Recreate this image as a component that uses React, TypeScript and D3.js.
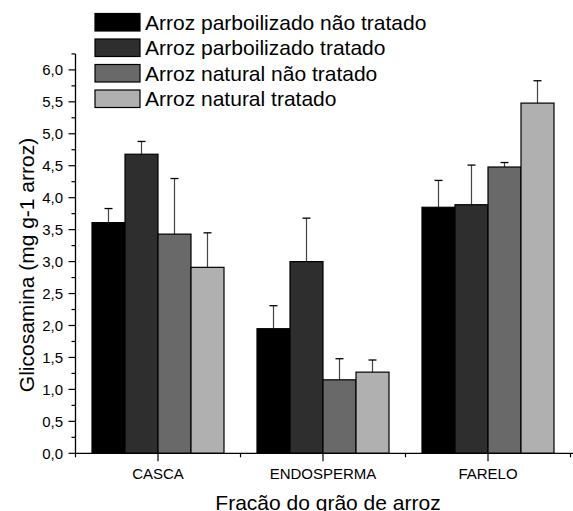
import React from 'react';
import { scaleLinear, range } from 'd3';

const categories = ['CASCA', 'ENDOSPERMA', 'FARELO'];
const seriesNames = [
  'Arroz parboilizado não tratado',
  'Arroz parboilizado tratado',
  'Arroz natural não tratado',
  'Arroz natural tratado',
];
const colors = ['#000000', '#2e2e2e', '#696969', '#b0b0b0'];
// values per series, in order of categories
const values = [
  [3.61, 1.95, 3.85],
  [4.68, 3.0, 3.89],
  [3.43, 1.15, 4.48],
  [2.91, 1.27, 5.48],
];
const errors = [
  [0.22, 0.36, 0.42],
  [0.2, 0.68, 0.62],
  [0.87, 0.33, 0.07],
  [0.54, 0.19, 0.35],
];
const yTicks = [0, 0.5, 1, 1.5, 2, 2.5, 3, 3.5, 4, 4.5, 5, 5.5, 6];

const W = 573;
const H = 511;

const App = () => {
  const x = scaleLinear().domain([-0.5, 2.5]).range([75.5, 570.5]);
  const y = scaleLinear().domain([0, 6.25]).range([453.3, 53.9]);
  const step = x(1) - x(0);
  const barW = (step * 0.8) / seriesNames.length;
  const font = "'Liberation Sans', Arial, sans-serif";
  const minorY = range(0, 6.26, 0.25).filter(v => Math.abs(v * 2 - Math.round(v * 2)) > 1e-6);
  const x0 = x(-0.5);

  return (
    <svg width={W} height={H} style={{ position: 'absolute', left: 0, top: 0, fontFamily: font }}>
      <rect width={W} height={H} fill="#fff" />

      {/* bars */}
      {values.map((vals, s) =>
        vals.map((v, c) => {
          const bx = x(c) - (step * 0.8) / 2 + s * barW;
          const top = y(v + errors[s][c]);
          return (
            <g key={`${s}-${c}`}>
              <line x1={bx + barW / 2} x2={bx + barW / 2} y1={y(v)} y2={top} stroke="#444" strokeWidth={1.2} />
              <line x1={bx + barW / 2 - 4} x2={bx + barW / 2 + 4} y1={top} y2={top} stroke="#000" strokeWidth={1.3} />
              <rect x={bx} y={y(v)} width={barW} height={y(0) - y(v)} fill={colors[s]} stroke="#000" strokeWidth={1.2} />
            </g>
          );
        })
      )}

      {/* y axis */}
      <line x1={x0} x2={x0} y1={y(0)} y2={y(6.25)} stroke="#000" strokeWidth={1.3} />
      {yTicks.map(t => (
        <g key={t}>
          <line x1={x0 - 7} x2={x0} y1={y(t)} y2={y(t)} stroke="#000" strokeWidth={1.2} />
          <text x={x0 - 12.5} y={y(t)} dy="0.35em" textAnchor="end" fontSize={15}>
            {t.toFixed(1).replace('.', ',')}
          </text>
        </g>
      ))}
      {minorY.map(t => (
        <line key={t} x1={x0 - 4} x2={x0} y1={y(t)} y2={y(t)} stroke="#000" strokeWidth={1.2} />
      ))}

      {/* x axis */}
      <line x1={x0} x2={W} y1={y(0)} y2={y(0)} stroke="#000" strokeWidth={1.3} />
      {categories.map((c, i) => (
        <g key={c}>
          <line x1={x(i)} x2={x(i)} y1={y(0)} y2={y(0) + 8} stroke="#000" strokeWidth={1.2} />
          <text x={x(i)} y={479} textAnchor="middle" fontSize={15}>{c}</text>
        </g>
      ))}
      {[-0.5, 0.5, 1.5, 2.5].map(t => (
        <line key={t} x1={x(t)} x2={x(t)} y1={y(0)} y2={y(0) + 4} stroke="#000" strokeWidth={1.2} />
      ))}

      {/* axis titles */}
      <text x={328} y={510} textAnchor="middle" fontSize={21}>Fracão do grão de arroz</text>
      <text transform="translate(34,265) rotate(-90)" textAnchor="middle" fontSize={21}>
        Glicosamina (mg g-1 arroz)
      </text>

      {/* legend */}
      {seriesNames.map((n, i) => (
        <g key={n} transform={`translate(95,${13.5 + i * 25.5})`}>
          <rect width={45} height={17.5} fill={colors[i]} stroke="#000" strokeWidth={1.2} />
          <text x={50} y={8.75} dy="0.36em" fontSize={21}>{n}</text>
        </g>
      ))}
    </svg>
  );
};

export default App;
